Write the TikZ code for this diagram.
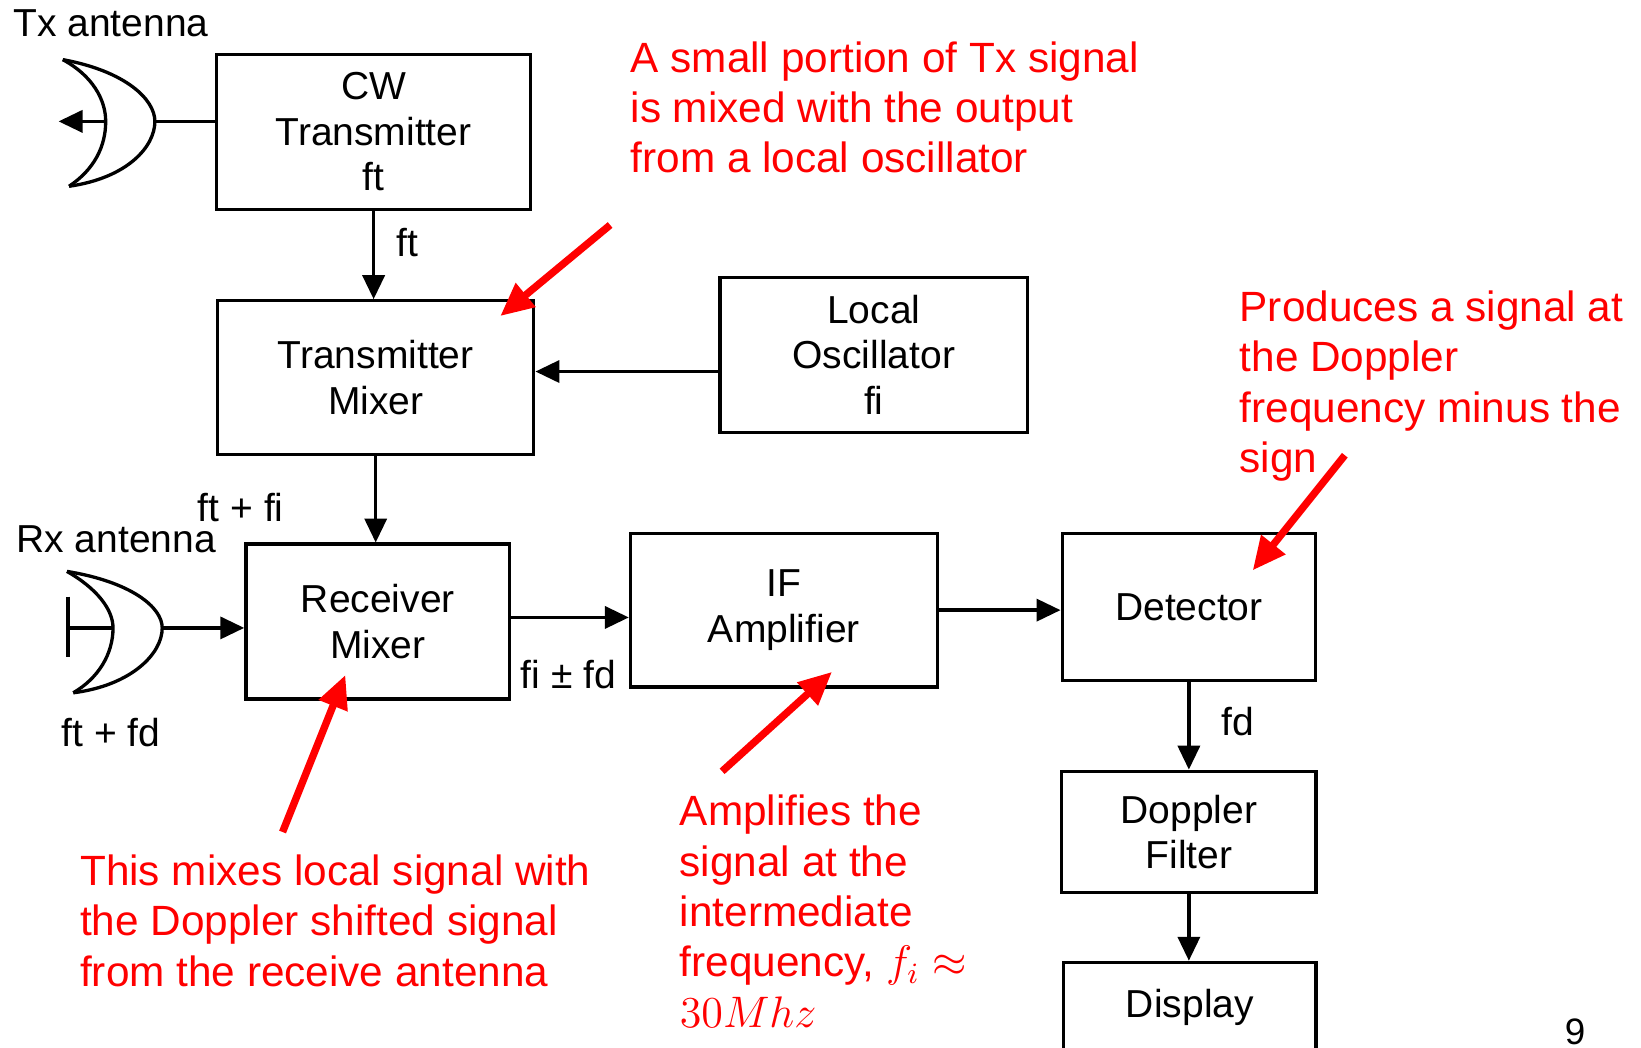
\documentclass[tikz,border=0pt]{standalone}
\usepackage{fontspec}
\setmainfont{Liberation Sans}
\usetikzlibrary{arrows.meta, positioning, calc}

\tikzset{
  block/.style={draw, line width=0.9pt, align=center, inner sep=0pt,
    font=\fontsize{10.6}{12.4}\selectfont},
  lbl/.style={inner sep=0pt, font=\fontsize{10.6}{12.4}\selectfont},
  note/.style={text=red, align=left, anchor=north west, inner sep=0pt,
    font=\fontsize{11.5}{13.7}\selectfont},
  redarrow/.style={draw=red, line width=2pt, -{Triangle[length=9pt,width=8pt]}},
}

\begin{document}
\begin{tikzpicture}[x=0.01cm, y=-0.01cm, line width=0.9pt, >={Triangle[length=6.5pt,width=6pt]}]
\useasboundingbox (0,0) rectangle (1568,1001);

% blocks
\node[block, minimum width=3.00cm, minimum height=1.48cm] at (357,126) (cw) {CW\\Transmitter\\ft};
\node[block, minimum width=3.02cm, minimum height=1.47cm] at (359,361) (txmix) {Transmitter\\Mixer};
\node[block, minimum width=2.94cm, minimum height=1.48cm] at (835,339) (lo) {Local\\Oscillator\\fi};
\node[block, minimum width=2.52cm, minimum height=1.48cm] at (361,594) (rxmix) {Receiver\\Mixer};
\node[block, minimum width=2.93cm, minimum height=1.47cm] at (749,583) (ifamp) {IF\\Amplifier};
\node[block, minimum width=2.42cm, minimum height=1.40cm] at (1136,580) (det) {Detector};
\node[block, minimum width=2.43cm, minimum height=1.16cm] at (1136,795) (dfilt) {Doppler\\Filter};
\node[block, minimum width=2.41cm, minimum height=1.20cm, anchor=north] at (1137,918) (disp) {};
\node[lbl, below=0.26cm of disp.north] (disptext) {Display};

% antennas
\node[lbl] at (106,22) (txlabel) {Tx antenna};
\node[lbl] at (111,515) (rxlabel) {Rx antenna};
\coordinate (txrim) at (148,116);
\coordinate (txfocus) at (101,116);
\coordinate (txtip) at (56,116);
\draw (60,57) .. controls (120,68) and (148,95) .. (txrim) .. controls (148,140) and (122,170) .. (66,178);
\draw (60,57) .. controls (88,72) and (101,95) .. (txfocus) .. controls (101,140) and (90,162) .. (66,178);
\draw[->] (txfocus) -- (txtip);
\draw (txrim) -- (txrim -| cw.west);

\coordinate (rxrim) at (155,600);
\coordinate (rxfocus) at (108,600);
\coordinate (rxfeed) at (65,600);
\draw (64,546) .. controls (125,556) and (155,580) .. (rxrim) .. controls (155,625) and (125,655) .. (70,662);
\draw (64,546) .. controls (92,562) and (108,582) .. (rxfocus) .. controls (108,625) and (94,648) .. (70,662);
\draw (65,570) -- (65,628);
\draw (rxfeed) -- (rxfocus);
\draw[->] (rxrim) -- (rxrim -| rxmix.west);

% signal path
\draw[->] (cw.south) -- node[lbl, right=0.2cm, pos=.36] (ftlabel) {ft} (cw.south |- txmix.north);
\coordinate (lofeed) at ([yshift=-0.16cm]lo.west);
\draw[->] (lofeed) -- (lofeed -| txmix.east);
\draw[->] (txmix.south) -- (txmix.south |- rxmix.north);
\node[lbl] at (230,485) (ftfi) {ft + fi};
\node[lbl] at (106,700) (ftfd) {ft + fd};
\draw[->] ([yshift=0.04cm]rxmix.east) -- ([yshift=0.04cm]rxmix.east -| ifamp.west);
\node[lbl] at (543,645) (fifd) {fi ± fd};
\draw[->] (ifamp.east) -- (ifamp.east -| det.west);
\draw[->] (det.south) -- node[lbl, right=0.3cm, pos=.45] (fdlabel) {fd} (det.south |- dfilt.north);
\draw[->] (dfilt.south) -- (dfilt.south |- disp.north);

% notes
\node[note] at (601,38) (note1) {A small portion of Tx signal\\is mixed with the output\\from a local oscillator};
\node[note] at (1183,276) (note2) {Produces a signal at\\the Doppler\\frequency minus the\\sign};
\node[note] at (75,815) (note3) {This mixes local signal with\\the Doppler shifted signal\\from the receive antenna};
\node[note] at (648,758) (note4) {Amplifies the\\signal at the\\intermediate\\frequency, $f_i\approx$\\$30Mhz$};
\coordinate (n1tail) at (583,215);
\coordinate (n1head) at (478,302);
\coordinate (n2tail) at (1285,435);
\coordinate (n2head) at (1197,545);
\coordinate (n3tail) at (270,795);
\coordinate (n3head) at (330,645);
\coordinate (n4tail) at (690,737);
\coordinate (n4head) at (795,642);
\draw[redarrow] (n1tail) -- (n1head);
\draw[redarrow] (n2tail) -- (n2head);
\draw[redarrow] (n3tail) -- (n3head);
\draw[redarrow] (n4tail) -- (n4head);

\node[lbl, anchor=north, font=\fontsize{10}{12}\selectfont] at (1505,972) (pagenum) {9};
\end{tikzpicture}
\end{document}
